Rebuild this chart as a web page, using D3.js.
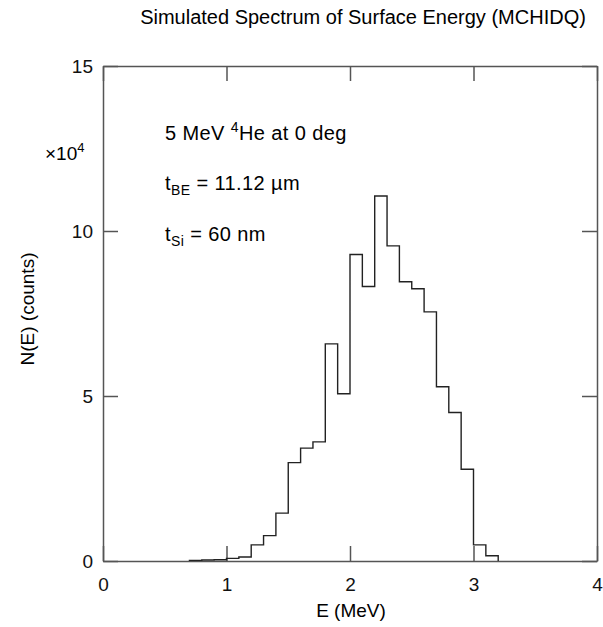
<!DOCTYPE html>
<html>
<head>
<meta charset="utf-8">
<script src="https://cdn.jsdelivr.net/npm/d3@7"></script>
<style>
  body { margin: 0; background: #fff; }
  svg { font-family: "Liberation Sans", Arial, sans-serif; }
  .axis path, .axis line { stroke: #555; stroke-width: 1.5; }
  .axis text { fill: #111; font-size: 19px; }
</style>
</head>
<body>
<div id="chart"></div>
<script>
// bin edges (MeV) and counts per bin (x10^4)
let binEdges = [0.7, 0.8, 0.9, 1.0, 1.1, 1.2, 1.3, 1.4, 1.5, 1.6, 1.7, 1.8, 1.9,
                2.0, 2.1, 2.2, 2.3, 2.4, 2.5, 2.6, 2.7, 2.8, 2.9, 3.0, 3.1, 3.2];
let counts = [0.02, 0.03, 0.04, 0.08, 0.12, 0.49, 0.77, 1.45, 2.98, 3.42, 3.61, 6.58,
              5.07, 9.29, 8.32, 11.06, 9.55, 8.46, 8.25, 7.55, 5.28, 4.50, 2.78, 0.49, 0.16];
let xTicks = [0, 1, 2, 3, 4];
let yTicks = [0, 5, 10, 15];

let margin = { top: 66, right: 6, bottom: 66, left: 103 };
let width = 603 - margin.left - margin.right,
    height = 627 - margin.top - margin.bottom;

let svg = d3.select("#chart").append("svg")
    .attr("width", 603)
    .attr("height", 627);

let g = svg.append("g")
    .attr("transform", "translate(" + margin.left + "," + margin.top + ")");

let x = d3.scaleLinear().domain([0, 4]).range([0, width]);
let y = d3.scaleLinear().domain([0, 15]).range([height, 0]);

// axes, ticks point inward
g.append("g")
    .attr("class", "axis")
    .attr("transform", "translate(0," + height + ")")
    .call(d3.axisBottom(x).tickValues(xTicks).tickSizeInner(-15).tickSizeOuter(0).tickPadding(17).tickFormat(d3.format("d")));

g.append("g")
    .attr("class", "axis")
    .call(d3.axisTop(x).tickValues(xTicks).tickSizeInner(-15).tickSizeOuter(0).tickFormat(""));

g.append("g")
    .attr("class", "axis")
    .call(d3.axisLeft(y).tickValues(yTicks).tickSizeInner(-15).tickSizeOuter(0).tickPadding(10).tickFormat(d3.format("d")));

g.append("g")
    .attr("class", "axis")
    .attr("transform", "translate(" + width + ",0)")
    .call(d3.axisRight(y).tickValues(yTicks).tickSizeInner(-15).tickSizeOuter(0).tickFormat(""));

// histogram as step line
let pts = [{ e: binEdges[0], v: 0 }];
counts.forEach(function(c, i) {
    pts.push({ e: binEdges[i], v: c });
});
pts.push({ e: binEdges[binEdges.length - 1], v: 0 });

let step = d3.line()
    .curve(d3.curveStepAfter)
    .x(function(d) { return x(d.e); })
    .y(function(d) { return y(d.v); });

g.append("path")
    .datum(pts)
    .attr("d", step)
    .attr("fill", "none")
    .attr("stroke", "#222")
    .attr("stroke-width", 1.4);

// titles
svg.append("text")
    .attr("x", 363)
    .attr("y", 24)
    .attr("text-anchor", "middle")
    .style("font-size", "20px")
    .text("Simulated Spectrum of Surface Energy (MCHIDQ)");

svg.append("text")
    .attr("x", 351)
    .attr("y", 617)
    .attr("text-anchor", "middle")
    .style("font-size", "19px")
    .text("E (MeV)");

svg.append("text")
    .attr("transform", "translate(34,309) rotate(-90)")
    .attr("text-anchor", "middle")
    .style("font-size", "19px")
    .text("N(E) (counts)");

let mult = svg.append("text")
    .attr("x", 45)
    .attr("y", 160)
    .style("font-size", "19px");
mult.append("tspan").text("\u00d710");
mult.append("tspan").attr("dy", -8).style("font-size", "13px").text("4");

// annotations
let a1 = svg.append("text").attr("x", 165).attr("y", 140).style("font-size", "20px").style("letter-spacing", "0.4px");
a1.append("tspan").text("5 MeV ");
a1.append("tspan").attr("dy", -8).style("font-size", "14px").text("4");
a1.append("tspan").attr("dy", 8).text("He at 0 deg");

let a2 = svg.append("text").attr("x", 165).attr("y", 190).style("font-size", "20px").style("letter-spacing", "0.4px");
a2.append("tspan").text("t");
a2.append("tspan").attr("dy", 5).style("font-size", "14px").text("BE");
a2.append("tspan").attr("dy", -5).text(" = 11.12 \u00b5m");

let a3 = svg.append("text").attr("x", 165).attr("y", 241).style("font-size", "20px").style("letter-spacing", "0.4px");
a3.append("tspan").text("t");
a3.append("tspan").attr("dy", 5).style("font-size", "14px").text("Si");
a3.append("tspan").attr("dy", -5).text(" = 60 nm");
</script>
</body>
</html>
